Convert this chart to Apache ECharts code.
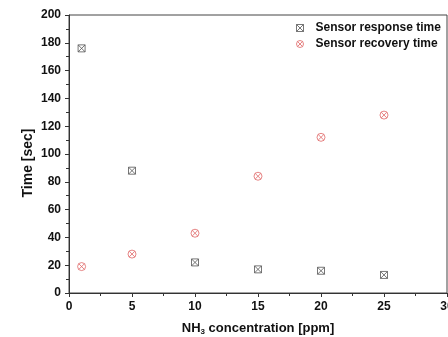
<!DOCTYPE html>
<html><head><meta charset="utf-8">
<script src="https://cdn.jsdelivr.net/npm/echarts@6/dist/echarts.min.js"></script>
<style>html,body{margin:0;padding:0;background:#fff}#c{width:448px;height:337px}</style>
</head><body><div id="c"></div>
<script>
const concentrations = [1, 5, 10, 15, 20, 25];
const responseTime = [176, 88, 22, 17, 16, 13];
const recoveryTime = [19, 28, 43, 84, 112, 128];
const seriesNames = ['Sensor response time', 'Sensor recovery time'];

const sqX = 'path://M0,0L10,0L10,10L0,10Z M0,0L10,10 M10,0L0,10';
const ciX = 'path://M0,5A5,5 0 1,1 10,5A5,5 0 1,1 0,5Z M1.5,1.5L8.5,8.5 M8.5,1.5L1.5,8.5';
const font = 'Liberation Sans, Arial, sans-serif';
const respColor = '#555';
const recColor = '#e06666';

const chart = echarts.init(document.getElementById('c'));
chart.setOption({
  animation: false,
  backgroundColor: '#fff',
  grid: { left: 69, right: 1, top: 15, bottom: 44, show: true, borderColor: '#444', borderWidth: 1,
          containLabel: false, outerBoundsMode: 'none' },
  legend: {
    data: [
      { name: seriesNames[0], icon: sqX, itemStyle: { color: 'rgba(0,0,0,0)', borderColor: respColor, borderWidth: 1 } },
      { name: seriesNames[1], icon: ciX, itemStyle: { color: 'rgba(0,0,0,0)', borderColor: recColor, borderWidth: 1 } }
    ],
    orient: 'vertical', left: 291, top: 17, itemWidth: 7, itemHeight: 7, itemGap: 4,
    textStyle: { fontFamily: font, fontWeight: 'bold', fontSize: 12, color: '#111', padding: [0, 0, 0, 7] }
  },
  xAxis: {
    type: 'value', min: 0, max: 30, interval: 5,
    axisLine: { lineStyle: { color: '#333', width: 1 } },
    axisTick: { length: 4, lineStyle: { color: '#333' } },
    minorTick: { show: true, splitNumber: 2, length: 3, lineStyle: { color: '#333' } },
    splitLine: { show: false },
    axisLabel: { fontFamily: font, fontWeight: 'bold', fontSize: 12, color: '#111', margin: 8 },
    name: '{a|NH}{s|3}{a| concentration [ppm]}', nameLocation: 'middle', nameGap: 27,
    nameMoveOverlap: false,
    nameTextStyle: { rich: {
      a: { fontFamily: font, fontWeight: 'bold', fontSize: 13, color: '#111' },
      s: { fontFamily: font, fontWeight: 'bold', fontSize: 8, color: '#111', padding: [8, 0, 0, 0] }
    } }
  },
  yAxis: {
    type: 'value', min: 0, max: 200, interval: 20,
    axisLine: { show: true, lineStyle: { color: '#333', width: 1 } },
    axisTick: { show: true, length: 4, lineStyle: { color: '#333' } },
    minorTick: { show: true, splitNumber: 2, length: 3, lineStyle: { color: '#333' } },
    splitLine: { show: false },
    axisLabel: { fontFamily: font, fontWeight: 'bold', fontSize: 12, color: '#111', margin: 8 },
    name: 'Time [sec]', nameLocation: 'middle', nameGap: 34, nameMoveOverlap: false,
    nameTextStyle: { fontFamily: font, fontWeight: 'bold', fontSize: 14, color: '#111', padding: [0, 18, 0, 0] }
  },
  series: [
    { name: seriesNames[0], type: 'scatter', symbol: sqX, symbolSize: 7,
      itemStyle: { color: 'rgba(0,0,0,0)', borderColor: respColor, borderWidth: 1 },
      data: concentrations.map((x, i) => [x, responseTime[i]]) },
    { name: seriesNames[1], type: 'scatter', symbol: ciX, symbolSize: 8,
      itemStyle: { color: 'rgba(0,0,0,0)', borderColor: recColor, borderWidth: 1 },
      data: concentrations.map((x, i) => [x, recoveryTime[i]]) }
  ]
});
</script></body></html>
